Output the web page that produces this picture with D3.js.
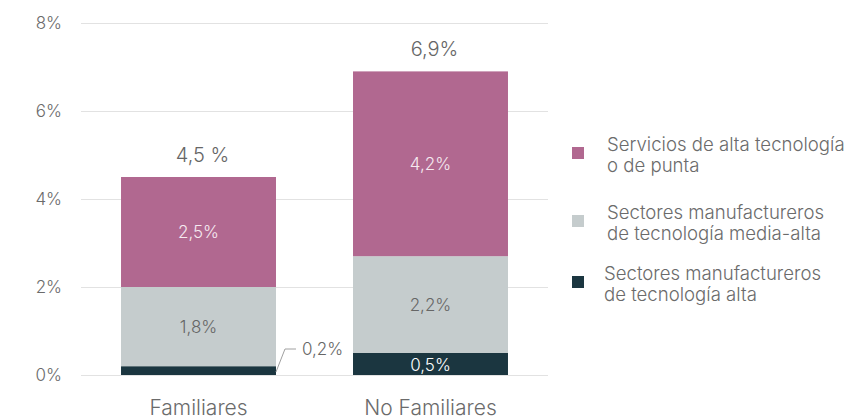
<!DOCTYPE html>
<html>
<head>
<meta charset="utf-8">
<script src="https://cdn.jsdelivr.net/npm/d3@7"></script>
<style>
  body { margin: 0; background: #fff; }
  text { font-family: Inter, "Noto Sans", sans-serif; font-weight: 300; }
</style>
</head>
<body>
<div id="chart-area"></div>
<script>
// data
var categories = ["Familiares", "No Familiares"];
var seriesNames = ["Sectores manufactureros de tecnología alta",
                   "Sectores manufactureros de tecnología media-alta",
                   "Servicios de alta tecnología o de punta"];
var alta = [0.2, 0.5];
var mediaAlta = [1.8, 2.2];
var servicios = [2.5, 4.2];
var totalLabels = ["4,5 %", "6,9%"];
var yTicks = [0, 2, 4, 6, 8];

var colors = ["#1b3640", "#c5cccd", "#b16890"];
var labelColors = ["#ffffff", "#666666", "#f6eaf0"];

var legendLines = [
  ["Servicios de alta tecnología", "o de punta"],
  ["Sectores manufactureros", "de tecnología media-alta"],
  ["Sectores manufactureros", "de tecnología alta"]
];
var legendColors = [colors[2], colors[1], colors[0]];

var W = 864, H = 419;
var svg = d3.select("#chart-area").append("svg")
    .attr("width", W).attr("height", H);

var yScale = d3.scaleLinear().domain([0, 8]).range([375, 23]);
var xScale = d3.scaleBand().domain(categories)
    .range([81, 548]).paddingInner(0.332).paddingOuter(0.1725);

// gridlines + y labels
var yAxis = d3.axisLeft(yScale).tickValues(yTicks)
    .tickSize(0).tickPadding(0)
    .tickFormat(function(d){ return d + "%"; });
var yg = svg.append("g").attr("transform", "translate(62,0)").call(yAxis);
yg.select(".domain").remove();
yg.selectAll("text").attr("font-size", "17px").attr("fill", "#6b6b6b")
    .attr("font-family", "Inter, 'Noto Sans', sans-serif");

svg.append("g").selectAll("line").data(yTicks).enter().append("line")
    .attr("x1", 81).attr("x2", 548)
    .attr("y1", function(d){ return yScale(d) + 0.5; })
    .attr("y2", function(d){ return yScale(d) + 0.5; })
    .attr("stroke", "#e2e2e2").attr("stroke-width", 1);

// stacked data
var rows = categories.map(function(c, i){
  return { cat: c, alta: alta[i], media: mediaAlta[i], serv: servicios[i] };
});
var stack = d3.stack().keys(["alta", "media", "serv"]);
var layers = stack(rows);

var layerG = svg.selectAll(".layer").data(layers).enter().append("g")
    .attr("fill", function(d, i){ return colors[i]; });

layerG.selectAll("rect").data(function(d){ return d; }).enter().append("rect")
    .attr("x", function(d){ return xScale(d.data.cat); })
    .attr("width", xScale.bandwidth())
    .attr("y", function(d){ return yScale(d[1]); })
    .attr("height", function(d){ return yScale(d[0]) - yScale(d[1]); });

// segment labels
layers.forEach(function(layer, li){
  layer.forEach(function(d, ci){
    var v = d[1] - d[0];
    var txt = String(Math.round(v * 10) / 10).replace(".", ",") + "%";
    var cx = xScale(d.data.cat) + xScale.bandwidth() / 2;
    var cy = (yScale(d[0]) + yScale(d[1])) / 2;
    if (li === 0 && ci === 0) {
      // small segment: outside label with leader line
      var x0 = xScale(d.data.cat) + xScale.bandwidth();
      var y0 = yScale(d[0]) - 3;
      svg.append("path")
        .attr("d", "M" + x0 + "," + y0 + " L" + (x0 + 9) + "," + (y0 - 23) + " L" + (x0 + 20) + "," + (y0 - 23))
        .attr("fill", "none").attr("stroke", "#a0a0a0").attr("stroke-width", 1);
      svg.append("text")
        .attr("x", x0 + 26).attr("y", y0 - 23)
        .attr("dy", "0.35em")
        .attr("font-size", "17px").attr("fill", "#666666")
        .text(txt);
      return;
    }
    svg.append("text")
      .attr("x", cx).attr("y", cy + (li === 0 ? 1 : 0))
      .attr("dy", "0.35em")
      .attr("text-anchor", "middle")
      .attr("font-size", "17px")
      .attr("fill", labelColors[li])
      .text(txt);
  });
});

// totals
svg.selectAll(".total").data(rows).enter().append("text")
  .attr("x", function(d){ return xScale(d.cat) + xScale.bandwidth() / 2 + 4; })
  .attr("y", function(d){ return yScale(d.alta + d.media + d.serv) - 15; })
  .attr("text-anchor", "middle")
  .attr("font-size", "20px").attr("fill", "#666666")
  .text(function(d, i){ return totalLabels[i]; });

// x labels
svg.selectAll(".xlab").data(categories).enter().append("text")
  .attr("x", function(d){ return xScale(d) + xScale.bandwidth() / 2; })
  .attr("y", 415)
  .attr("text-anchor", "middle")
  .attr("font-size", "21px").attr("fill", "#6b6b6b")
  .text(function(d){ return d; });

// legend
var legendY = [153, 221, 282];
legendLines.forEach(function(lines, i){
  var g = svg.append("g").attr("transform", "translate(572," + legendY[i] + ")");
  g.append("rect").attr("x", 0).attr("y", -6).attr("width", 12).attr("height", 12)
    .attr("fill", legendColors[i]);
  lines.forEach(function(l, j){
    g.append("text")
      .attr("x", i === 2 ? 32 : 35).attr("y", -9 + j * 21)
      .attr("dy", "0.35em")
      .attr("font-size", "18.6px").attr("fill", "#6b6b6b")
      .text(l);
  });
});
</script>
</body>
</html>
